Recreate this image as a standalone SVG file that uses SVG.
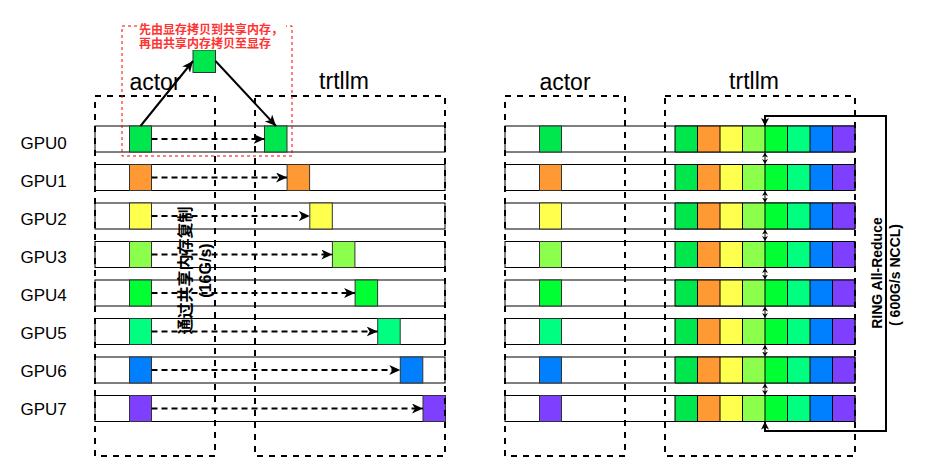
<svg xmlns="http://www.w3.org/2000/svg" width="931" height="472" viewBox="0 0 931 472">
<style>
.row{fill:#fff;stroke:#000;stroke-width:1}
.cell{stroke:#333;stroke-width:1}
.cont{fill:none;stroke:#000;stroke-width:2;stroke-dasharray:6 6}
.lbl{font-family:"Liberation Sans",Arial,sans-serif;font-size:17px;fill:#000}
.title{font-family:"Liberation Sans",Arial,sans-serif;font-size:23px;fill:#000;text-anchor:middle}
.dash{fill:none;stroke:#000;stroke-width:2;stroke-dasharray:6 4}
.solid{fill:none;stroke:#000;stroke-width:2}
.c0{fill:#00E64D}.c1{fill:#FF9933}.c2{fill:#FFFF4D}.c3{fill:#8CFF4D}
.c4{fill:#00FF33}.c5{fill:#00FF80}.c6{fill:#0080FF}.c7{fill:#7F3FFF}
.bold{font-family:"Liberation Sans","Noto Sans CJK SC",sans-serif;font-weight:bold;font-size:16px;fill:#000;text-anchor:middle;dominant-baseline:central}
.red{font-family:"Liberation Sans","Noto Sans CJK SC",sans-serif;font-weight:bold;font-size:12px;fill:#FF3333}
</style>
<defs>
<marker id="arr" markerUnits="userSpaceOnUse" markerWidth="12" markerHeight="10" refX="11" refY="5" orient="auto">
<path d="M0,0 L11,5 L0,10 L3,5 Z" fill="#000"/>
</marker>
<marker id="sm" markerUnits="userSpaceOnUse" markerWidth="6" markerHeight="6" refX="5" refY="3" orient="auto-start-reverse">
<path d="M0,0 L5,3 L0,6 L1.5,3 Z" fill="#000"/>
</marker>
<marker id="ring" markerUnits="userSpaceOnUse" markerWidth="9" markerHeight="8" refX="8" refY="4" orient="auto-start-reverse">
<path d="M0,0 L8,4 L0,8 L2,4 Z" fill="#000"/>
</marker>
</defs>
<rect width="931" height="472" fill="#fff"/>

<g id="gpu-labels">
<text class="lbl" x="20.5" y="149">GPU0</text>
<text class="lbl" x="20.5" y="187">GPU1</text>
<text class="lbl" x="20.5" y="225">GPU2</text>
<text class="lbl" x="20.5" y="263">GPU3</text>
<text class="lbl" x="20.5" y="301">GPU4</text>
<text class="lbl" x="20.5" y="339">GPU5</text>
<text class="lbl" x="20.5" y="377">GPU6</text>
<text class="lbl" x="20.5" y="415">GPU7</text>
</g>

<g id="left-rows">
<rect class="row" x="95" y="126" width="350" height="26"/>
<rect class="row" x="95" y="164.5" width="350" height="26"/>
<rect class="row" x="95" y="203" width="350" height="26"/>
<rect class="row" x="95" y="241.5" width="350" height="26"/>
<rect class="row" x="95" y="280" width="350" height="26"/>
<rect class="row" x="95" y="318.5" width="350" height="26"/>
<rect class="row" x="95" y="357" width="350" height="26"/>
<rect class="row" x="95" y="395.5" width="350" height="26"/>
</g>

<g id="left-actor-cells">
<rect class="cell c0" x="129.5" y="126" width="22" height="26"/>
<rect class="cell c1" x="129.5" y="164.5" width="22" height="26"/>
<rect class="cell c2" x="129.5" y="203" width="22" height="26"/>
<rect class="cell c3" x="129.5" y="241.5" width="22" height="26"/>
<rect class="cell c4" x="129.5" y="280" width="22" height="26"/>
<rect class="cell c5" x="129.5" y="318.5" width="22" height="26"/>
<rect class="cell c6" x="129.5" y="357" width="22" height="26"/>
<rect class="cell c7" x="129.5" y="395.5" width="22" height="26"/>
</g>

<g id="left-trtllm-cells">
<rect class="cell c0" x="264.5" y="126" width="22.5" height="26"/>
<rect class="cell c1" x="287.1" y="164.5" width="22.5" height="26"/>
<rect class="cell c2" x="309.8" y="203" width="22.5" height="26"/>
<rect class="cell c3" x="332.4" y="241.5" width="22.5" height="26"/>
<rect class="cell c4" x="355.1" y="280" width="22.5" height="26"/>
<rect class="cell c5" x="377.7" y="318.5" width="22.5" height="26"/>
<rect class="cell c6" x="400.3" y="357" width="22.5" height="26"/>
<rect class="cell c7" x="423" y="395.5" width="22.5" height="26"/>
</g>

<g id="shared-mem">
<rect class="cell c0" x="193" y="50" width="22.5" height="22.5"/>
</g>

<g id="right-rows">
<rect class="row" x="505" y="126" width="350" height="26"/>
<rect class="row" x="505" y="164.5" width="350" height="26"/>
<rect class="row" x="505" y="203" width="350" height="26"/>
<rect class="row" x="505" y="241.5" width="350" height="26"/>
<rect class="row" x="505" y="280" width="350" height="26"/>
<rect class="row" x="505" y="318.5" width="350" height="26"/>
<rect class="row" x="505" y="357" width="350" height="26"/>
<rect class="row" x="505" y="395.5" width="350" height="26"/>
</g>

<g id="right-actor-cells">
<rect class="cell c0" x="539.5" y="126" width="22" height="26"/>
<rect class="cell c1" x="539.5" y="164.5" width="22" height="26"/>
<rect class="cell c2" x="539.5" y="203" width="22" height="26"/>
<rect class="cell c3" x="539.5" y="241.5" width="22" height="26"/>
<rect class="cell c4" x="539.5" y="280" width="22" height="26"/>
<rect class="cell c5" x="539.5" y="318.5" width="22" height="26"/>
<rect class="cell c6" x="539.5" y="357" width="22" height="26"/>
<rect class="cell c7" x="539.5" y="395.5" width="22" height="26"/>
</g>

<defs>
<g id="strip">
<rect class="c0" x="675" y="0" width="22.5" height="26"/>
<rect class="c1" x="697.5" y="0" width="22.5" height="26"/>
<rect class="c2" x="720" y="0" width="22.5" height="26"/>
<rect class="c3" x="742.5" y="0" width="22.5" height="26"/>
<rect class="c4" x="765" y="0" width="22.5" height="26"/>
<rect class="c5" x="787.5" y="0" width="22.5" height="26"/>
<rect class="c6" x="810" y="0" width="22.5" height="26"/>
<rect class="c7" x="832.5" y="0" width="22.5" height="26"/>
<path d="M675,0H855V26H675Z M697.5,0V26 M720,0V26 M742.5,0V26 M765,0V26 M787.5,0V26 M810,0V26 M832.5,0V26" fill="none" stroke="#000" stroke-width="1"/>
</g>
</defs>
<g id="right-trtllm-cells">
<use href="#strip" y="126"/>
<use href="#strip" y="164.5"/>
<use href="#strip" y="203"/>
<use href="#strip" y="241.5"/>
<use href="#strip" y="280"/>
<use href="#strip" y="318.5"/>
<use href="#strip" y="357"/>
<use href="#strip" y="395.5"/>
</g>

<g id="containers">
<rect id="left-actor" class="cont" x="95" y="96" width="120" height="360"/>
<rect id="left-trtllm" class="cont" x="255" y="96" width="190" height="360"/>
<rect id="right-actor" class="cont" x="505" y="96" width="120" height="360"/>
<rect id="right-trtllm" class="cont" x="665" y="96" width="190" height="360"/>
</g>

<g id="titles">
<text class="title" x="155" y="90">actor</text>
<text class="title" x="344" y="89">trtllm</text>
<text class="title" x="565" y="90">actor</text>
<text class="title" x="754" y="89">trtllm</text>
</g>

<g id="connectors">
<line class="dash" x1="151.5" y1="139" x2="264.5" y2="139" marker-end="url(#arr)"/>
<line class="dash" x1="151.5" y1="177.5" x2="287.1" y2="177.5" marker-end="url(#arr)"/>
<line class="dash" x1="151.5" y1="216" x2="309.8" y2="216" marker-end="url(#arr)"/>
<line class="dash" x1="151.5" y1="254.5" x2="332.4" y2="254.5" marker-end="url(#arr)"/>
<line class="dash" x1="151.5" y1="293" x2="355.1" y2="293" marker-end="url(#arr)"/>
<line class="dash" x1="151.5" y1="331.5" x2="377.7" y2="331.5" marker-end="url(#arr)"/>
<line class="dash" x1="151.5" y1="370" x2="400.3" y2="370" marker-end="url(#arr)"/>
<line class="dash" x1="151.5" y1="408.5" x2="423" y2="408.5" marker-end="url(#arr)"/>
<line class="solid" x1="140.5" y1="126" x2="193" y2="61" marker-end="url(#arr)"/>
<line class="solid" x1="215.5" y1="61" x2="276" y2="126" marker-end="url(#arr)"/>
<g stroke="#000" stroke-width="1">
<line x1="765" y1="152.5" x2="765" y2="164" marker-start="url(#sm)" marker-end="url(#sm)"/>
<line x1="765" y1="191" x2="765" y2="202.5" marker-start="url(#sm)" marker-end="url(#sm)"/>
<line x1="765" y1="229.5" x2="765" y2="241" marker-start="url(#sm)" marker-end="url(#sm)"/>
<line x1="765" y1="268" x2="765" y2="279.5" marker-start="url(#sm)" marker-end="url(#sm)"/>
<line x1="765" y1="306.5" x2="765" y2="318" marker-start="url(#sm)" marker-end="url(#sm)"/>
<line x1="765" y1="345" x2="765" y2="356.5" marker-start="url(#sm)" marker-end="url(#sm)"/>
<line x1="765" y1="383.5" x2="765" y2="395" marker-start="url(#sm)" marker-end="url(#sm)"/>
</g>
<path d="M765,421.5 L765,431 L886,431 L886,116 L765,116 L765,126" fill="none" stroke="#000" stroke-width="2" marker-start="url(#ring)" marker-end="url(#ring)"/>
</g>

<g id="note">
<rect x="122" y="26" width="170" height="130" fill="none" stroke="#FF0000" stroke-width="1" stroke-dasharray="3 3"/>
<rect x="137" y="22" width="149" height="28" fill="#fff"/>
<text class="red" x="139" y="34">先由显存拷贝到共享内存，</text>
<text class="red" x="139" y="47.5">再由共享内存拷贝至显存</text>
</g>

<g id="copy-label">
<text class="bold" transform="translate(185,270.5) rotate(-90)">通过共享内存复制</text>
<text class="bold" transform="translate(205,270.5) rotate(-90)">(16G/s)</text>
</g>

<g id="ring-label">
<text class="bold" style="font-size:14px" transform="translate(877,273) rotate(-90)">RING All-Reduce</text>
<text class="bold" style="font-size:14px" transform="translate(895,275) rotate(-90)">( 600G/s NCCL)</text>
</g>
</svg>
